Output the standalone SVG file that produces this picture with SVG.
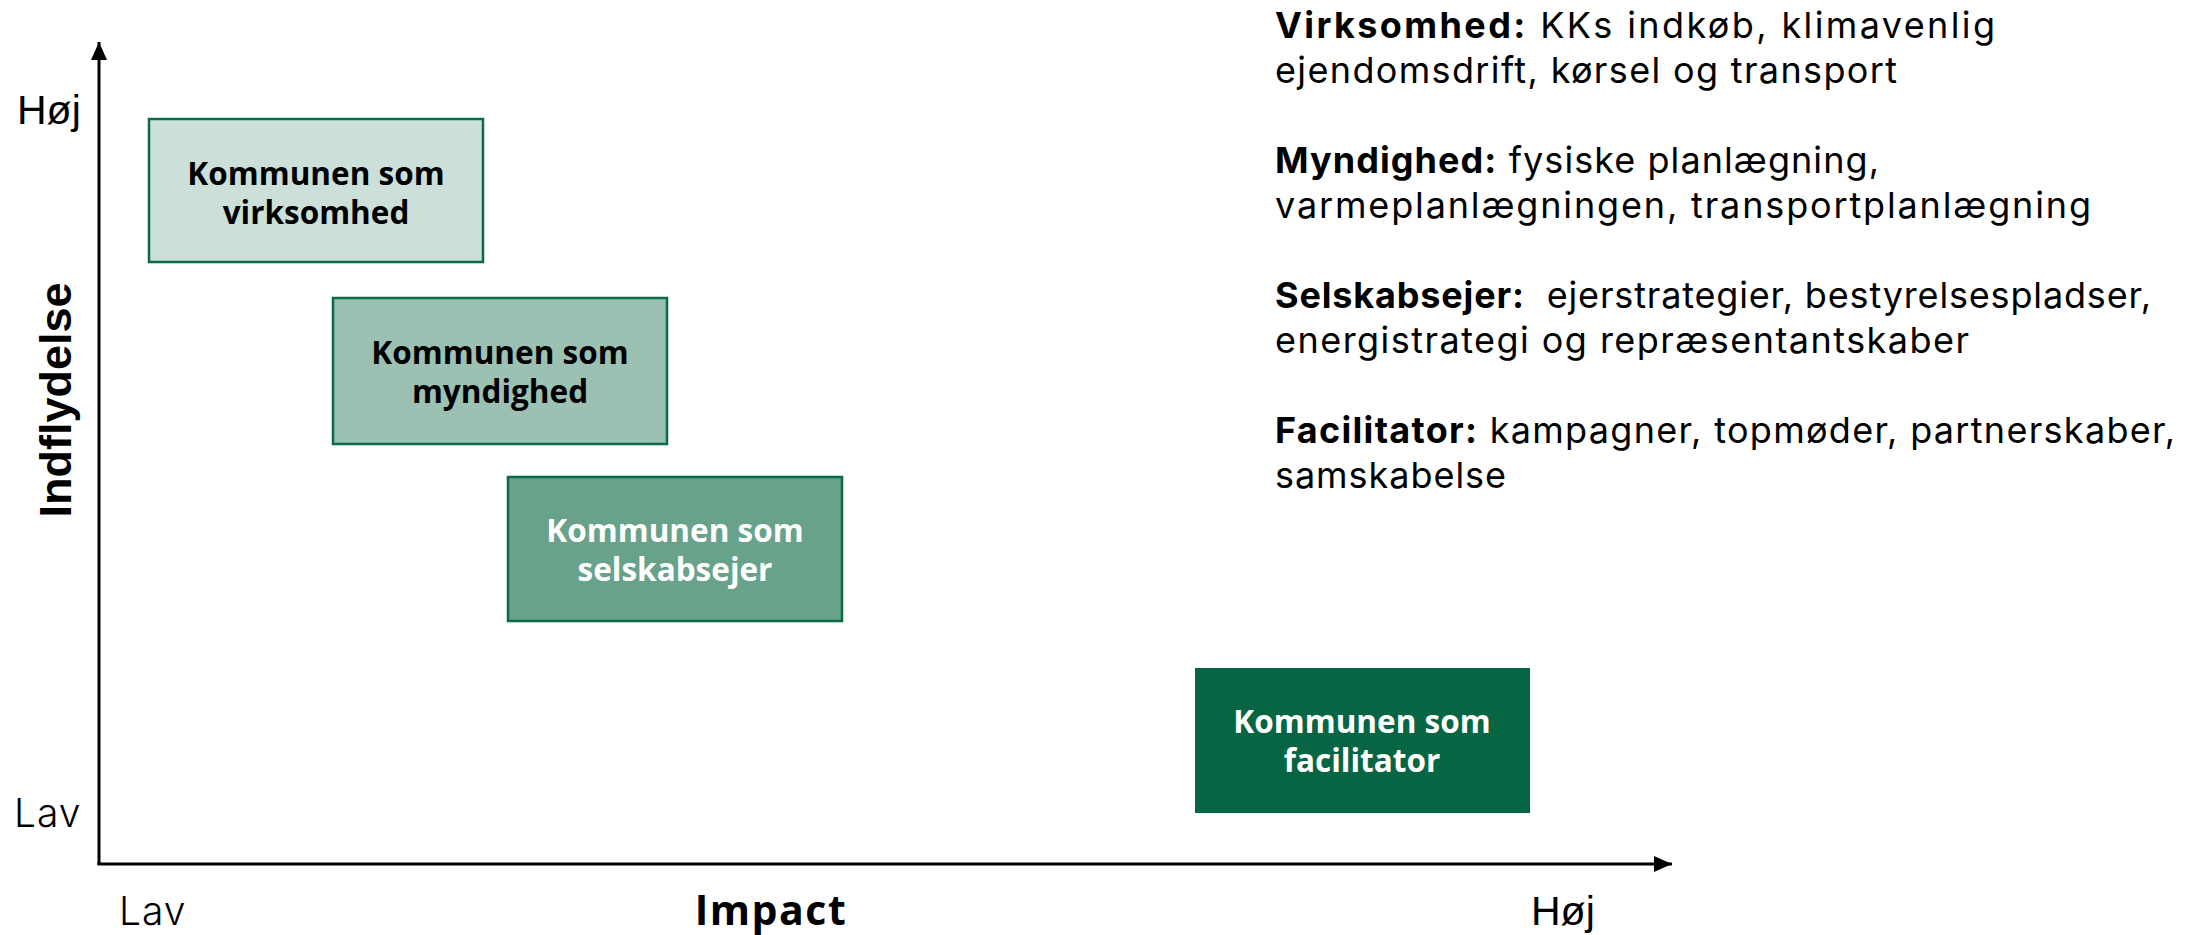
<svg xmlns="http://www.w3.org/2000/svg" width="2187" height="935" viewBox="0 0 2187 935">
<style>
.box{stroke:#0B6B47;stroke-width:2.5}
.lbl{font-family:"Open Sans","Liberation Sans",sans-serif;font-weight:700;font-size:31.5px;text-anchor:middle}
.dark{fill:#000}
.light{fill:#fff}
.ax{stroke:#000;stroke-width:3;fill:none}
.tick{font-family:Inter,"Open Sans",sans-serif;font-weight:300;font-size:39px;letter-spacing:1px;fill:#000}
.hoj{font-family:"Liberation Sans",Arial,sans-serif;font-size:41px;fill:#000}
.desc{font-family:Inter,"Open Sans",sans-serif;font-size:36px;fill:#000}
.desc .b{font-weight:700}
</style>
<defs>
<marker id="arr" markerUnits="userSpaceOnUse" markerWidth="18" markerHeight="16" refX="18" refY="8" orient="auto">
<path d="M0,0 L18,8 L0,16 Z" fill="#000"/>
</marker>
</defs>
<g id="connectors">
<line class="ax" x1="99" y1="865" x2="99" y2="42" marker-end="url(#arr)"/>
<line class="ax" x1="97.5" y1="864" x2="1672" y2="864" marker-end="url(#arr)"/>
</g>
<g id="axis-labels">
<text class="hoj" x="17" y="124">Høj</text>
<text class="tick" x="14" y="827">Lav</text>
<text class="tick" x="119" y="925">Lav</text>
<text x="771" y="925" text-anchor="middle" style="font-family:'Open Sans','Liberation Sans',sans-serif;font-weight:700;font-size:41px;letter-spacing:1.5px">Impact</text>
<text class="hoj" x="1531" y="925">Høj</text>
<text transform="translate(71,400) rotate(-90)" text-anchor="middle" style="font-family:'Liberation Sans',Arial,sans-serif;font-weight:700;font-size:45px">Indflydelse</text>
</g>
<g id="virksomhed">
<rect class="box" x="149" y="119" width="334" height="143" fill="#CCE0D9"/>
<text class="lbl dark" x="316" y="185">Kommunen som</text>
<text class="lbl dark" x="316" y="224">virksomhed</text>
</g>
<g id="myndighed">
<rect class="box" x="333" y="298" width="334" height="146" fill="#9CC1B3"/>
<text class="lbl dark" x="500" y="364">Kommunen som</text>
<text class="lbl dark" x="500" y="403">myndighed</text>
</g>
<g id="selskabsejer">
<rect class="box" x="508" y="477" width="334" height="144" fill="#69A28A"/>
<text class="lbl light" x="675" y="542">Kommunen som</text>
<text class="lbl light" x="675" y="581">selskabsejer</text>
</g>
<g id="facilitator">
<rect x="1195" y="668" width="335" height="145" fill="#066643"/>
<text class="lbl light" x="1362" y="733">Kommunen som</text>
<text class="lbl light" x="1362" y="772">facilitator</text>
</g>
<g id="legend" class="desc">
<text x="1275" y="38" textLength="720" lengthAdjust="spacing"><tspan class="b">Virksomhed:</tspan> KKs indkøb, klimavenlig</text>
<text x="1275" y="83" textLength="622" lengthAdjust="spacing">ejendomsdrift, kørsel og transport</text>
<text x="1275" y="173" textLength="604" lengthAdjust="spacing"><tspan class="b">Myndighed:</tspan> fysiske planlægning,</text>
<text x="1275" y="218" textLength="816" lengthAdjust="spacing">varmeplanlægningen, transportplanlægning</text>
<text x="1275" y="308" xml:space="preserve" textLength="876" lengthAdjust="spacing"><tspan class="b">Selskabsejer:</tspan>  ejerstrategier, bestyrelsespladser,</text>
<text x="1275" y="353" textLength="694" lengthAdjust="spacing">energistrategi og repræsentantskaber</text>
<text x="1275" y="443" textLength="900" lengthAdjust="spacing"><tspan class="b">Facilitator:</tspan> kampagner, topmøder, partnerskaber,</text>
<text x="1275" y="488" textLength="231" lengthAdjust="spacing">samskabelse</text>
</g>
</svg>
